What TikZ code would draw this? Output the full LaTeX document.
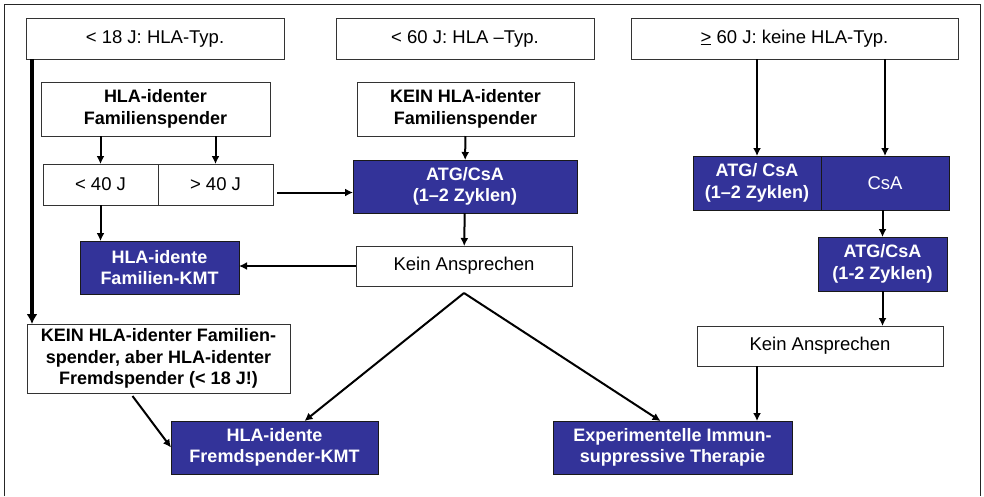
\documentclass[tikz,border=0pt]{standalone}
\usepackage{fontspec}
\setmainfont{Liberation Sans}
\usetikzlibrary{positioning, arrows.meta}
\definecolor{kmtblau}{RGB}{51,51,153}

\begin{document}
\begin{tikzpicture}[x=1pt,y=-1pt,
    kasten/.style={draw=black!80, line width=1pt, fill=white, align=center,
      inner sep=0pt, outer sep=0pt, font=\fontsize{18.5}{21.5}\selectfont},
    fett/.style={kasten, font=\fontsize{18}{21.5}\selectfont\bfseries},
    blau/.style={fett, fill=kmtblau, draw=black!90, text=white},
    pfeil/.style={-{Latex[length=8pt,width=8pt]}, line width=2pt}]
  \useasboundingbox (0,0) rectangle (984,496);
  \draw[line width=1.5pt, black!85] (4.5,496) -- (4.5,4.5) -- (980.5,4.5) -- (980.5,496);

  % Altersgruppen
  \node[kasten, minimum width=258pt, minimum height=41pt] (typA) at (155,38.5) {< 18 J: HLA-Typ.};
  \node[kasten, minimum width=258pt, minimum height=41pt] (typB) at (465,38.5) {< 60 J: HLA --Typ.};
  \node[kasten, minimum width=327pt, minimum height=41pt] (typC) at (794.5,38.5) {\underline{>} 60 J: keine HLA-Typ.};

  % linke Spalte
  \node[fett, minimum width=229pt, minimum height=54pt] (famja) at (155.5,109) {HLA-identer\\Familienspender};
  \node[kasten, minimum width=115pt, minimum height=41pt] (lt40) at (100.5,184.5) {< 40 J};
  \node[kasten, minimum width=115pt, minimum height=41pt, right=0pt of lt40] (gt40) {> 40 J};
  \node[blau, minimum width=159pt, minimum height=53pt] (famkmt) at (159.5,267.5) {HLA-idente\\Familien-KMT};
  \node[fett, minimum width=263pt, minimum height=69pt] (fremdja) at (158.5,358.5) {KEIN HLA-identer Familien-\\spender, aber HLA-identer\\Fremdspender (< 18 J!)};
  \node[blau, minimum width=207pt, minimum height=53pt] (fremdkmt) at (274.5,447.5) {HLA-idente\\Fremdspender-KMT};

  % mittlere Spalte
  \node[fett, minimum width=217pt, minimum height=54pt] (famnein) at (465.5,109) {KEIN HLA-identer\\Familienspender};
  \node[blau, minimum width=224pt, minimum height=53pt] (atgB) at (465,186.5) {ATG/CsA\\(1--2 Zyklen)};
  \node[kasten, minimum width=216pt, minimum height=40pt] (keinB) at (464,266) {Kein Ansprechen};
  \node[blau, minimum width=239pt, minimum height=53pt] (exper) at (672.5,447.5) {Experimentelle Immun-\\suppressive Therapie};

  % rechte Spalte
  \node[blau, minimum width=128pt, minimum height=54pt] (atgC) at (757,183) {ATG/ CsA\\(1--2 Zyklen)};
  \node[blau, minimum width=128pt, minimum height=54pt, right=0pt of atgC, font=\fontsize{18.5}{21.5}\selectfont] (csa) {CsA};
  \node[blau, minimum width=129pt, minimum height=54pt] (atgD) at (882.5,264) {ATG/CsA\\(1-2 Zyklen)};
  \node[kasten, minimum width=246pt, minimum height=40pt] (keinC) at (820,346) {Kein Ansprechen};

  \coordinate (split) at ([yshift=-7pt]keinB.south);
  \coordinate (gtaus) at ([xshift=4pt,yshift=-8pt]gt40.east);

  % Pfeile
  \draw[-{Latex[length=10pt,width=11pt]}, line width=4pt] ([xshift=6pt]typA.south west) -- ([xshift=5pt]fremdja.north west);
  \draw[pfeil] (famja.south -| lt40) -- (lt40.north);
  \draw[pfeil] (famja.south -| gt40) -- (gt40.north);
  \draw[pfeil] (lt40.south) -- (lt40.south |- famkmt.north);
  \draw[pfeil] (gtaus) -- (gtaus -| atgB.west);
  \draw[pfeil] (famnein) -- (atgB);
  \draw[pfeil] (atgB) -- (keinB);
  \draw[pfeil] (keinB.west) -- (famkmt.east |- keinB.west);
  \draw[pfeil] (split) -- ([xshift=30pt]fremdkmt.north);
  \draw[pfeil] (split) -- ([xshift=-12pt]exper.north);
  \draw[pfeil] ([xshift=-26pt,yshift=-3pt]fremdja.south) -- (fremdkmt.west);
  \draw[pfeil] (typC.south -| atgC) -- (atgC.north);
  \draw[pfeil] (typC.south -| csa) -- (csa.north);
  \draw[pfeil] (csa.south -| atgD) -- (atgD.north);
  \draw[pfeil] (atgD) -- (keinC.north -| atgD);
  \draw[pfeil] (keinC.south -| atgC) -- (atgC |- exper.north);
\end{tikzpicture}
\end{document}
